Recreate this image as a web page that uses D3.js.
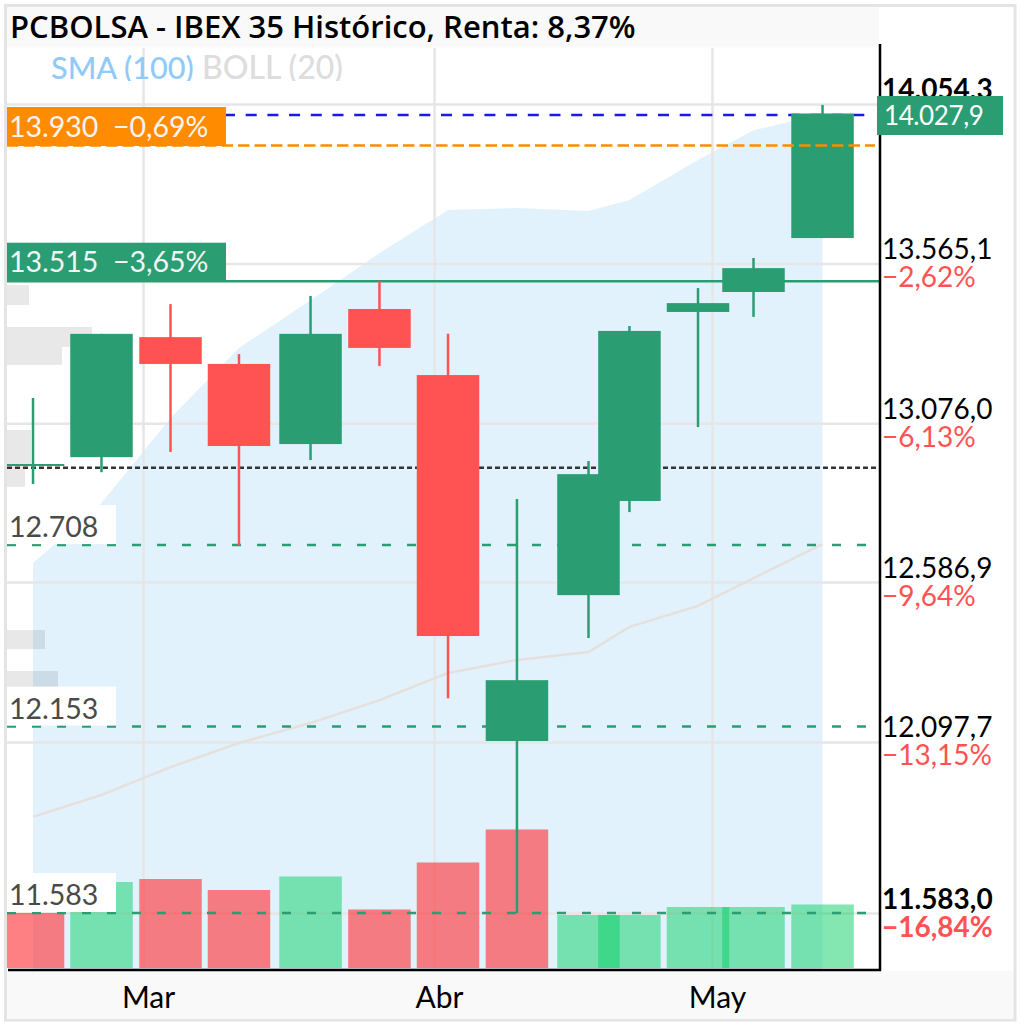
<!DOCTYPE html>
<html><head><meta charset="utf-8">
<script src="https://cdn.jsdelivr.net/npm/d3@7"></script>
<style>
html,body{margin:0;padding:0;background:#fff}
svg{display:block}
text{font-family:Lato,sans-serif}
</style></head><body><div id="c"></div>
<script>
// days since 1 March for each session
const sessionDays=[-11.79,-4.45,2.95,10.29,17.96,25.35,32.7,40.09,47.76,52.15,59.5,65.45,72.85];
const opens =[12950,12977,13344,13262,13017,13430,13228,12109,12555,12843,13421,13482,13647];
const closes=[12956,13354,13262,13011,13354,13311,12430,12295,12925,13363,13448,13555,14027.9];
const highs =[13158,13354,13445,13292,13470,13515,13354,12849,12965,13378,13494,13586,14054.3];
const lows  =[12895,12931,12993,12708,12968,13256,12240,11583,12424,12809,13069,13406,13647];
const volumes=[55,86,89,78,91.5,58.5,105.5,138.5,53,53,61,61,63.5];
const volumeUp=[false,true,false,false,true,false,false,false,true,true,true,true,true];
const smaValues=[12653,12837,13097,13311,13457,13601,13733,13739,13730,13763,13886,13977,14026];
const bollValues=[11877,11944,12029,12103,12164,12234,12317,12357,12381,12458,12522,12607,12711];
const monthDays=[0,31.2,61];
const monthLabels=["Mar","Abr","May"];
const gridValues=[14057,13569,13081,12595,12106,11583];
const priceLabels=["14.054,3","13.565,1","13.076,0","12.586,9","12.097,7","11.583,0"];
const pctLabels=["","−2,62%","−6,13%","−9,64%","−13,15%","−16,84%"];
const lastPrice=14027.9, lastLabel="14.027,9";
const startPrice=12944.6;
const orangeLevel=13930, orangeLabel="13.930  −0,69%";
const greenLevel=13515, greenLabel="13.515  −3,65%";
const supportLevels=[12708,12153,11583];
const supportLabels=["12.708","12.153","11.583"];
const profileHigh=[13503,13375,13314,13060,12947,12448,12323];
const profileLow=[13442,13314,13259,12947,12886,12390,12274];
const profileSize=[22,85,55,24,18,38,51];

const W=1020,H=1025;
const M={l:7,r:879,t:45,b:969};
const svg=d3.select("#c").append("svg").attr("width",W).attr("height",H);
const x=d3.scaleLinear().domain([0,61]).range([143,712]);
const y=d3.scaleLinear().domain([11583,13930]).range([913,145.5]);
const yVol=d3.scaleLinear().domain([0,150]).range([968,818]);
const xProf=d3.scaleLinear().domain([0,100]).range([7,107]);
const barDays=6.7;
const GREEN="#2a9d72",RED="#ff5252";
const idx=d3.range(sessionDays.length);

svg.append("defs").append("clipPath").attr("id","plot").append("rect")
 .attr("x",M.l).attr("y",M.t).attr("width",M.r-M.l).attr("height",M.b-M.t);
svg.select("defs").append("clipPath").attr("id","legend").append("rect")
 .attr("x",0).attr("y",48).attr("width",W).attr("height",33);

// frame and bands
svg.append("rect").attr("x",5.5).attr("y",5.5).attr("width",1009.5).attr("height",1014.5)
 .attr("fill","#fff").attr("stroke","#e4e4e4").attr("stroke-width",3);
svg.append("rect").attr("x",7).attr("y",7).attr("width",872).attr("height",40.5).attr("fill","#f9f9f9");
svg.append("rect").attr("x",7).attr("y",971).attr("width",1006).attr("height",48).attr("fill","#f9f9f9");

const plot=svg.append("g").attr("clip-path","url(#plot)");

// SMA area
plot.append("path").datum(idx)
 .attr("d",d3.area().x(i=>x(sessionDays[i])).y0(M.b).y1(i=>y(smaValues[i])))
 .attr("fill","#e1f2fd");

// grid
const gridY=d3.axisLeft(y).tickValues(gridValues).tickSize(-(M.r-M.l)).tickFormat("");
const gy=plot.append("g").attr("transform",`translate(${M.l},0)`).call(gridY);
gy.select(".domain").remove();
const gridX=d3.axisBottom(x).tickValues(monthDays).tickSize(-(M.b-48)).tickFormat("");
const gx=plot.append("g").attr("transform",`translate(0,${M.b})`).call(gridX);
gx.select(".domain").remove();
plot.selectAll(".tick line").attr("stroke","#e6e6e6").attr("stroke-width",2.5);

// BOLL line
plot.append("path").datum(idx)
 .attr("d",d3.line().x(i=>x(sessionDays[i])).y(i=>y(bollValues[i])))
 .attr("fill","none").attr("stroke","#e6e0dd").attr("stroke-width",2.5);

const bw=x(barDays)-x(0);

// volume bars
plot.selectAll("rect.vol").data(idx).join("rect").attr("class","vol")
 .attr("x",i=>x(sessionDays[i])-bw/2).attr("width",bw)
 .attr("y",i=>yVol(volumes[i])).attr("height",i=>yVol(0)-yVol(volumes[i]))
 .attr("fill",i=>volumeUp[i]?"#0acd64":"#ff2b2f")
 .attr("fill-opacity",i=>volumeUp[i]?0.5:0.6);

// volume-by-price blocks
plot.selectAll("rect.prof").data(profileSize).join("rect").attr("class","prof")
 .attr("x",xProf(0)).attr("width",d=>xProf(d)-xProf(0))
 .attr("y",(d,i)=>y(profileHigh[i])).attr("height",(d,i)=>y(profileLow[i])-y(profileHigh[i]))
 .attr("fill","#000").attr("fill-opacity",0.09);

// level lines behind candles
plot.append("line").attr("x1",M.l).attr("x2",M.r-4).attr("y1",y(lastPrice)+1.5).attr("y2",y(lastPrice)+1.5)
 .attr("stroke","#1a1ae6").attr("stroke-width",2.5).attr("stroke-dasharray","11 10.7");
plot.append("line").attr("x1",M.l).attr("x2",M.r).attr("y1",y(greenLevel)).attr("y2",y(greenLevel))
 .attr("stroke",GREEN).attr("stroke-width",2.5);
plot.append("line").attr("x1",M.l).attr("x2",M.r-3).attr("y1",y(startPrice)).attr("y2",y(startPrice))
 .attr("stroke","#333").attr("stroke-width",2.5).attr("stroke-dasharray","5 3");
plot.selectAll("line.sup").data(supportLevels).join("line").attr("class","sup")
 .attr("x1",M.l).attr("x2",M.r-3).attr("y1",d=>y(d)).attr("y2",d=>y(d))
 .attr("stroke",GREEN).attr("stroke-width",2.5).attr("stroke-dasharray","9 16");

// candles
const col=i=>closes[i]>=opens[i]?GREEN:RED;
plot.selectAll("line.wick").data(idx).join("line").attr("class","wick")
 .attr("x1",i=>x(sessionDays[i])).attr("x2",i=>x(sessionDays[i]))
 .attr("y1",i=>y(highs[i])).attr("y2",i=>y(lows[i]))
 .attr("stroke",col).attr("stroke-width",2.5);
plot.selectAll("rect.body").data(idx).join("rect").attr("class","body")
 .attr("x",i=>x(sessionDays[i])-bw/2).attr("width",bw)
 .attr("y",i=>y(Math.max(opens[i],closes[i])))
 .attr("height",i=>Math.abs(y(opens[i])-y(closes[i])))
 .attr("fill",col);

// orange line above candles
plot.append("line").attr("x1",M.l).attr("x2",M.r-4).attr("y1",y(orangeLevel)).attr("y2",y(orangeLevel))
 .attr("stroke","#ff8c00").attr("stroke-width",2.5).attr("stroke-dasharray","11.5 5");

// left tags
const tags=[{v:orangeLevel,t:orangeLabel,c:"#ff8c00"},{v:greenLevel,t:greenLabel,c:GREEN}];
tags.forEach(d=>{
 svg.append("rect").attr("x",M.l).attr("y",y(d.v)-38.5).attr("width",219).attr("height",39).attr("fill",d.c);
 svg.append("text").attr("x",9).attr("y",y(d.v)-9).attr("fill","#f4f4f4").attr("font-size",28.5).attr("xml:space","preserve").text(d.t);
});
supportLevels.forEach((v,i)=>{
 svg.append("rect").attr("x",M.l).attr("y",y(v)-40).attr("width",109).attr("height",39).attr("fill","#fff");
 svg.append("text").attr("x",9).attr("y",y(v)-8).attr("fill","#4a4a4a").attr("font-size",28.5).text(supportLabels[i]);
});

// legend
const leg=svg.append("g").attr("clip-path","url(#legend)");
leg.append("text").attr("x",51).attr("y",79).attr("font-size",30.7).attr("font-weight",500).attr("fill","#90caf9").text("SMA (100)");
leg.append("text").attr("x",202).attr("y",79).attr("font-size",32).attr("font-weight",500).attr("fill","#dddddd").text("BOLL (20)");

// title
svg.append("text").attr("x",10).attr("y",38).attr("font-size",31).attr("font-weight",600)
 .style("font-family","'Open Sans',sans-serif").attr("fill","#000")
 .text("PCBOLSA - IBEX 35 Histórico, Renta: 8,37%");

// axes
const yAxis=d3.axisRight(y).tickValues(gridValues).tickSize(0).tickPadding(3)
 .tickFormat((d,i)=>priceLabels[i]);
const ga=svg.append("g").attr("transform",`translate(${M.r},0)`).call(yAxis);
ga.select(".domain").remove();
ga.selectAll("text").attr("dy",-5).attr("fill","#000").attr("font-size",28).style("font-family","Lato,sans-serif")
 .attr("font-weight",(d,i)=>(i===0||i===5)?700:400);
ga.selectAll(".tick").append("text").attr("x",3).attr("dy",23).attr("fill","#ff5252").attr("font-size",28)
 .style("font-family","Lato,sans-serif")
 .attr("font-weight",(d,i)=>i===5?700:400).text((d,i)=>pctLabels[i]);

const xAxis=d3.axisBottom(x).tickValues(monthDays).tickSize(0).tickPadding(0)
 .tickFormat((d,i)=>monthLabels[i]);
const gb=svg.append("g").attr("transform",`translate(5,${M.b})`).call(xAxis);
gb.select(".domain").remove();
gb.selectAll("text").attr("y",39).attr("dy",0).attr("fill","#000").attr("font-size",30).style("font-family","Lato,sans-serif");

// frame lines
svg.append("line").attr("x1",M.r+1).attr("x2",M.r+1).attr("y1",44).attr("y2",971).attr("stroke","#000").attr("stroke-width",2.5);
svg.append("line").attr("x1",8).attr("x2",M.r+2).attr("y1",M.b+1).attr("y2",M.b+1).attr("stroke","#000").attr("stroke-width",2.5);

// last price tag
svg.append("rect").attr("x",877).attr("y",96).attr("width",126).attr("height",39).attr("fill",GREEN);
svg.append("text").attr("x",884).attr("y",125).attr("fill","#fff").attr("font-size",26).attr("letter-spacing",-0.4).text(lastLabel);
</script></body></html>
